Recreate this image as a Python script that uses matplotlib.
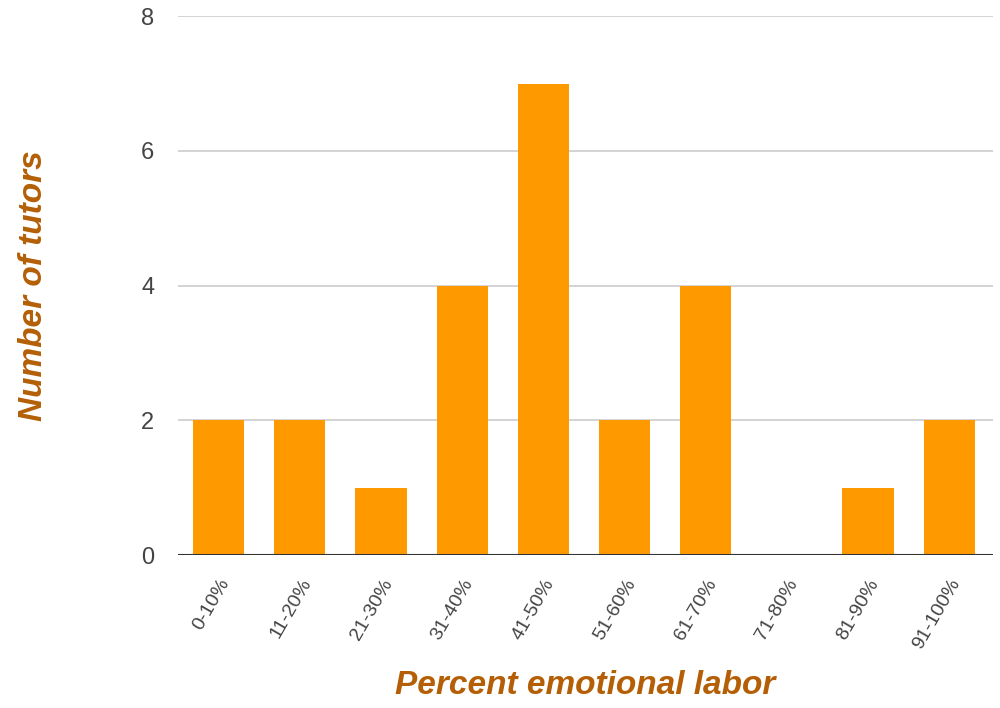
import matplotlib.pyplot as plt
import numpy as np

ranges = ['0-10%', '11-20%', '21-30%', '31-40%', '41-50%',
          '51-60%', '61-70%', '71-80%', '81-90%', '91-100%']
tutors = [2, 2, 1, 4, 7, 2, 4, 0, 1, 2]
yticks = [0, 2, 4, 6, 8]

plt.rcParams['font.family'] = ['Liberation Sans', 'DejaVu Sans']

fig = plt.figure(figsize=(10, 7.08), dpi=100)
ax = fig.add_axes([0.178, 0.216, 0.815, 0.761])

x = np.arange(len(ranges))
ax.bar(x, tutors, width=0.63, color='#ff9900', zorder=3)

# a little extra room on the right so the gridlines run past the last bar
ax.set_xlim(-0.5, len(ranges) - 0.46)
ax.set_ylim(0, 8)
ax.set_yticks(yticks)
ax.set_yticklabels([str(v) for v in yticks], fontsize=17, color='#444444')
ax.yaxis.grid(True, color='#cccccc', linewidth=1.2, zorder=0)
ax.axhline(0, color='#333333', linewidth=1.5, zorder=4)

ax.set_xticks(x)
ax.set_xticklabels(ranges, rotation=60, ha='right', rotation_mode='anchor',
                   fontsize=14, color='#444444')
ax.tick_params(axis='both', length=0)
ax.tick_params(axis='y', pad=17)
ax.tick_params(axis='x', pad=15)

for s in ax.spines.values():
    s.set_visible(False)

lab = dict(fontsize=24, fontweight='bold', fontstyle='italic', color='#b45f06')
ax.set_xlabel('Percent emotional labor', labelpad=13, **lab)
ax.set_ylabel('Number of tutors', labelpad=66, **lab)

fig.savefig('out.png', dpi=100, facecolor='white')
